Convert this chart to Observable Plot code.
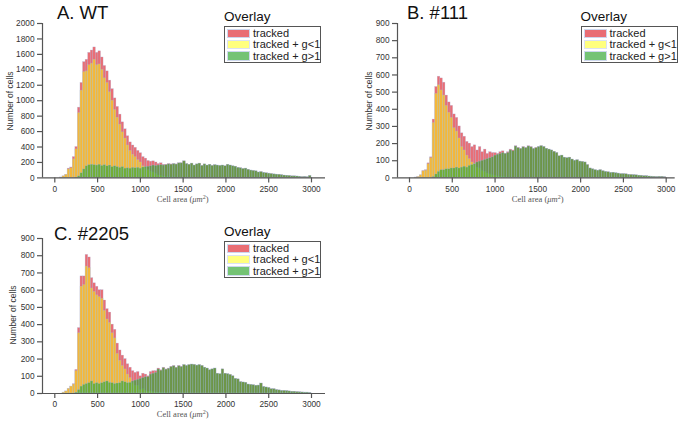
<!DOCTYPE html>
<html><head><meta charset="utf-8">
<script src="https://cdn.jsdelivr.net/npm/d3@7"></script>
<script src="https://cdn.jsdelivr.net/npm/@observablehq/plot@0.6"></script>
<style>
body{margin:0;background:#fff;font-family:"Liberation Sans",Arial,sans-serif;}
#root{position:relative;width:685px;height:424px;overflow:hidden;background:#fff;}
.abs{position:absolute;white-space:nowrap;line-height:1;}
.title{font-size:18.5px;color:#111;}
.ov{font-size:13.5px;color:#111;}
.leg{position:absolute;border:1.5px solid #555;background:#fff;box-sizing:border-box;}
.row{position:absolute;left:2px;width:94px;height:10px;font-size:11px;color:#222;line-height:10px;white-space:nowrap;}
.patch{position:absolute;left:0;top:0;width:23px;height:9.5px;box-sizing:border-box;border:1px solid #b8c6e6;}
.row span{position:absolute;left:26px;top:-0.5px;white-space:nowrap;}
.xl{font-family:"Liberation Serif","DejaVu Serif",serif;font-size:8.5px;color:#555;line-height:9px;}
.xl sup{font-size:6px;line-height:0;vertical-align:3px;}
.yl{font-size:8.5px;color:#333;transform:translate(-50%,-50%) rotate(-90deg);}
svg{position:absolute;}
</style></head>
<body><div id="root"></div>
<script>
// bin width 30 (0..3000, 100 bins)
const binWidth = 30;
const xTicks = [0, 500, 1000, 1500, 2000, 2500, 3000];
const seriesNames = ["tracked", "tracked + g<1", "tracked + g>1"];

// Panel A. WT
const wtTracked = [0,0,5,20,40,120,135,270,400,910,
 1230,1500,1530,1620,1650,1690,1620,1640,1560,1450,
 1380,1260,1150,1030,920,820,720,630,540,460,
 420,390,350,320,270,250,220,210,215,200,
 180,190,170,170,180,175,180,175,190,190,
 215,180,170,185,160,175,185,155,175,160,
 170,155,165,160,155,160,150,170,160,150,
 145,130,125,115,120,105,95,90,85,70,
 75,65,60,55,50,45,42,40,35,30,
 28,25,20,20,18,15,10,12,8,25];
const wtGlt1 = [0,0,5,20,40,110,125,240,370,840,
 1130,1370,1380,1460,1480,1530,1460,1470,1400,1290,
 1230,1110,1000,880,780,690,590,510,420,350,
 300,270,230,200,150,130,100,80,70,50,
 30,25,15,10,8,5,5,3,2,2,
 1,1,0,0,0,0,0,0,0,0,
 0,0,0,0,0,0,0,0,0,0,
 0,0,0,0,0,0,0,0,0,0,
 0,0,0,0,0,0,0,0,0,0,
 0,0,0,0,0,0,0,0,0,0];
const wtGgt1 = [0,0,0,0,0,0,0,0,5,20,
 60,110,150,165,170,165,160,170,155,165,
 150,160,140,150,140,130,140,120,125,120,
 130,125,130,120,135,140,145,150,160,155,
 160,165,160,165,175,170,178,172,188,188,
 214,179,170,185,160,175,185,155,175,160,
 170,155,165,160,155,160,150,170,160,150,
 145,130,125,115,120,105,95,90,85,70,
 75,65,60,55,50,45,42,40,35,30,
 28,25,20,20,18,15,10,12,8,25];

// Panel B. #111
const m111Tracked = [0,0,2,5,15,40,45,85,120,340,
 530,590,580,555,480,440,420,370,350,300,
 260,240,210,200,180,190,160,180,150,165,
 140,150,145,145,140,150,155,140,150,165,
 160,185,175,170,180,175,185,180,170,175,
 180,185,180,170,165,160,152,145,126,130,
 118,115,118,107,100,103,95,93,90,75,
 55,50,45,42,45,39,35,33,29,30,
 27,25,22,22,21,18,17,16,15,13,
 12,10,10,8,7,6,5,6,6,4];
const m111Glt1 = [0,0,2,5,15,38,42,80,115,320,
 490,540,510,480,420,380,350,290,270,230,
 180,160,130,110,90,80,60,55,40,35,
 25,20,15,12,8,6,4,3,2,1,
 0,0,0,0,0,0,0,0,0,0,
 0,0,0,0,0,0,0,0,0,0,
 0,0,0,0,0,0,0,0,0,0,
 0,0,0,0,0,0,0,0,0,0,
 0,0,0,0,0,0,0,0,0,0,
 0,0,0,0,0,0,0,0,0,0];
const m111Ggt1 = [0,0,0,0,0,0,0,0,0,5,
 20,35,45,45,50,50,55,55,60,55,
 60,65,60,70,75,80,90,95,100,105,
 110,115,120,130,135,140,145,140,145,160,
 155,183,173,168,178,173,183,178,168,173,
 180,185,180,170,165,160,152,145,126,130,
 118,115,118,107,100,103,95,93,90,75,
 55,50,45,42,45,39,35,33,29,30,
 27,25,22,22,21,18,17,16,15,13,
 12,10,10,8,7,6,5,6,6,4];

// Panel C. #2205
const m2205Tracked = [0,0,0,5,12,27,40,54,137,380,
 680,680,805,790,670,640,620,600,600,540,
 490,470,400,370,290,250,220,200,170,150,
 130,120,125,100,115,110,100,125,130,130,
 145,135,150,140,145,155,160,150,160,155,
 165,160,165,168,166,162,165,160,150,145,
 135,140,145,115,112,140,115,112,108,100,
 85,82,66,64,62,52,50,48,45,46,
 58,38,35,32,25,25,20,18,15,15,
 14,12,10,10,8,7,6,5,5,3];
const m2205Glt1 = [0,0,0,5,12,27,40,52,130,350,
 620,630,737,728,610,590,570,560,550,480,
 430,410,350,320,230,190,160,140,110,90,
 60,45,45,20,25,15,10,12,8,5,
 4,3,2,1,0,0,0,0,0,0,
 0,0,0,0,0,0,0,0,0,0,
 0,0,0,0,0,0,0,0,0,0,
 0,0,0,0,0,0,0,0,0,0,
 0,0,0,0,0,0,0,0,0,0,
 0,0,0,0,0,0,0,0,0,0];
const m2205Ggt1 = [0,0,0,0,0,0,0,0,5,20,
 40,50,55,60,70,55,60,55,60,65,
 70,62,60,55,58,60,70,65,60,62,
 70,75,80,85,90,95,95,110,115,120,
 140,132,147,138,143,153,158,148,158,153,
 165,160,165,168,166,162,165,160,150,145,
 135,140,145,115,112,140,115,112,108,100,
 85,82,66,64,62,52,50,48,45,46,
 58,38,35,32,25,25,20,18,15,15,
 14,12,10,10,8,7,6,5,5,3];

const RED = "#e0303a", YEL = "#ffff00", GRN = "#33a833";
const ALPHA = [0.7, 0.5, 0.68];
const COLORS = [RED, YEL, GRN];
const EDGE = "#a9b8e0";

const root = document.getElementById("root");
function el(cls, html, left, top, extra) {
  const d = document.createElement("div");
  d.className = cls;
  d.innerHTML = html;
  d.style.left = left + "px";
  d.style.top = top + "px";
  if (extra) Object.assign(d.style, extra);
  root.appendChild(d);
  return d;
}

function panel(cfg) {
  const ML = 42, MT = 23, MR = 8, MB = 26;
  const ppu = (cfg.x3000 - cfg.x0) / 3000;
  const dmin = -(cfg.x0 - cfg.axisX) / ppu;
  const dmax = 3000 + (cfg.xEnd - cfg.x3000) / ppu;
  const ph = cfg.yBottom - cfg.yTop;
  const width = ML + (cfg.xEnd - cfg.axisX) + MR;
  const height = MT + ph + MB;
  const toRows = arr => arr.map((v, i) => ({x1: i * binWidth, x2: (i + 1) * binWidth, y: v}));
  const marks = cfg.series.map((arr, k) => Plot.rectY(toRows(arr), {
    x1: "x1", x2: "x2", y: "y", fill: COLORS[k], fillOpacity: ALPHA[k],
    stroke: EDGE, strokeWidth: 0.45, strokeOpacity: 0.55
  }));
  const yTicks = d3.range(0, cfg.ymax + 1, cfg.ystep);
  const svg = Plot.plot({
    width, height, marginLeft: ML, marginTop: MT, marginRight: MR, marginBottom: MB,
    x: {domain: [dmin, dmax]},
    y: {domain: [0, cfg.ymax]},
    style: {fontFamily: '"Liberation Sans", Arial, sans-serif', fontSize: "8.3px", color: "#333", background: "transparent", overflow: "visible"},
    marks: [
      ...marks,
      Plot.ruleX([dmin], {stroke: "#555", strokeWidth: 1.2}),
      Plot.ruleY([0], {stroke: "#555", strokeWidth: 1.2}),
      Plot.axisX({ticks: xTicks, tickSize: 5, tickPadding: 3, label: null, tickFormat: d => String(d), stroke: "#555", strokeWidth: 1.2}),
      Plot.axisY({ticks: yTicks, tickSize: 5, tickPadding: 3, label: null, tickFormat: d => String(d), stroke: "#555", strokeWidth: 1.2})
    ]
  });
  svg.style.left = (cfg.axisX - ML) + "px";
  svg.style.top = (cfg.yTop - MT) + "px";
  root.appendChild(svg);

  el("abs title", cfg.title, cfg.titleX, cfg.titleY);
  el("abs ov", "Overlay", cfg.legX, cfg.legY - 16);
  const leg = el("leg", "", cfg.legX, cfg.legY, {width: "97px", height: "37px"});
  seriesNames.forEach((name, k) => {
    const r = document.createElement("div");
    r.className = "row";
    r.style.top = (2 + k * 11.3) + "px";
    const p = document.createElement("div");
    p.className = "patch";
    p.style.background = COLORS[k];
    p.style.opacity = ALPHA[k];
    r.appendChild(p);
    const s = document.createElement("span");
    s.textContent = name;
    r.appendChild(s);
    leg.appendChild(r);
  });
  const cx = (cfg.x0 + cfg.x3000) / 2;
  el("abs xl", "Cell area (<i>μm</i><sup>2</sup>)", cx, cfg.yBottom + 17.5, {transform: "translateX(-50%)"});
  el("abs yl", "Number of cells", cfg.ylabelX, (cfg.yTop + cfg.yBottom) / 2);
}

panel({title: "A. WT", titleX: 57, titleY: 4, axisX: 42, x0: 54.3, x3000: 311, xEnd: 325,
  yTop: 23.3, yBottom: 177.7, ymax: 2000, ystep: 200, legX: 224, legY: 25.5, ylabelX: 10,
  series: [wtTracked, wtGlt1, wtGgt1]});
panel({title: "B. #111", titleX: 407, titleY: 4, axisX: 397.3, x0: 409.3, x3000: 666, xEnd: 675,
  yTop: 23.3, yBottom: 177.7, ymax: 900, ystep: 100, legX: 580.5, legY: 25.5, ylabelX: 369,
  series: [m111Tracked, m111Glt1, m111Ggt1]});
panel({title: "C. #2205", titleX: 54, titleY: 225, axisX: 42, x0: 54.3, x3000: 311, xEnd: 325,
  yTop: 237.7, yBottom: 392.7, ymax: 900, ystep: 100, legX: 224, legY: 240.5, ylabelX: 13,
  series: [m2205Tracked, m2205Glt1, m2205Ggt1]});
</script>
</body></html>
